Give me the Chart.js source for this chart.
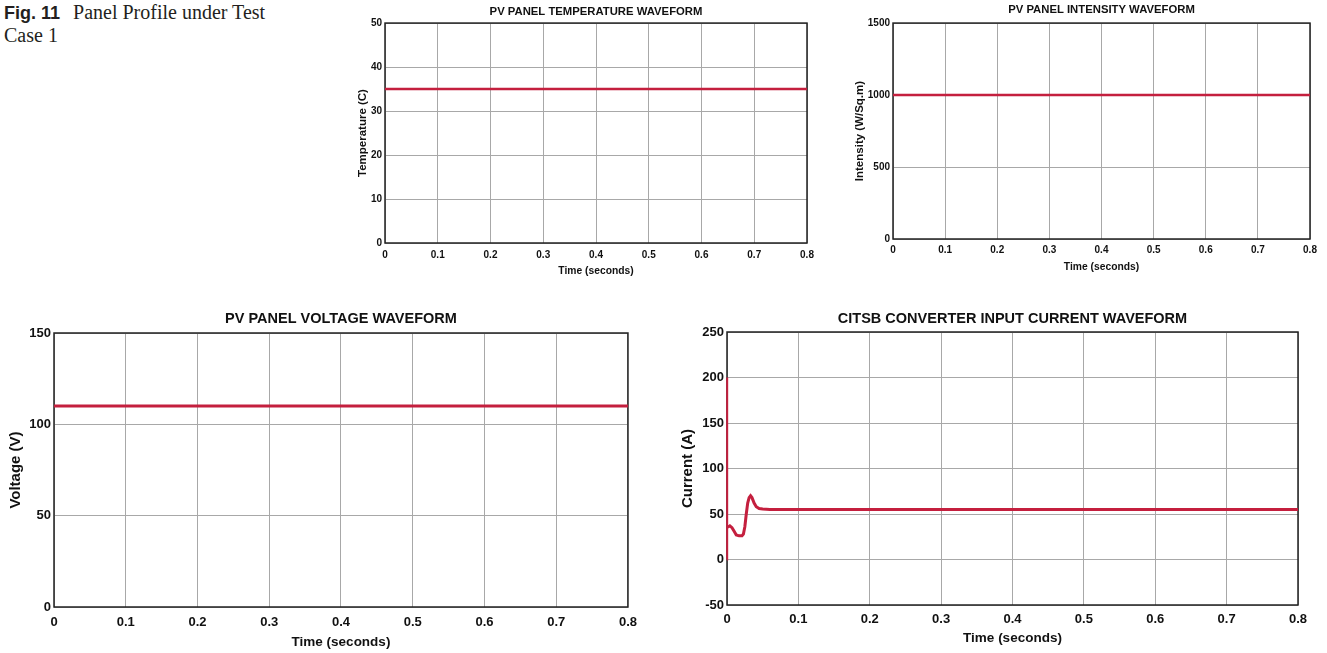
<!DOCTYPE html>
<html>
<head>
<meta charset="utf-8">
<title>Panel Profile under Test Case 1</title>
<script src="https://cdn.jsdelivr.net/npm/chart.js@4/dist/chart.umd.min.js"></script>
<style>
  body {
    margin: 0;
    background: #fff;
    width: 1327px;
    height: 653px;
    overflow: hidden;
    position: relative;
  }
  .caption {
    position: absolute;
    left: 4px;
    top: 1px;
    font-family: "Liberation Serif", "Times New Roman", serif;
    font-size: 20px;
    line-height: 22px;
    color: #231f20;
  }
  .caption b {
    font-family: "Liberation Sans", Arial, sans-serif;
    font-size: 18px;
    margin-right: 8px;
  }
  canvas {
    position: absolute;
  }
</style>
</head>
<body>
<div class="caption"><b>Fig. 11</b> Panel Profile under Test<br>Case 1</div>

<canvas id="temp" style="left:350px;top:0px" width="470" height="280"></canvas>
<canvas id="intensity" style="left:845px;top:0px" width="480" height="275"></canvas>
<canvas id="voltage" style="left:0px;top:300px" width="645" height="353"></canvas>
<canvas id="current" style="left:675px;top:300px" width="650" height="353"></canvas>

<script>
// time axis shared by all four panels
const timeTickValues = [0, 0.1, 0.2, 0.3, 0.4, 0.5, 0.6, 0.7, 0.8];
const timeTickLabels = ["0", "0.1", "0.2", "0.3", "0.4", "0.5", "0.6", "0.7", "0.8"];

// PV panel temperature (C)
const tempTime = [0, 0.8];
const tempValues = [35, 35];
const tempTicks = [0, 10, 20, 30, 40, 50];

// PV panel intensity (W/Sq.m)
const intensityTime = [0, 0.8];
const intensityValues = [1000, 1000];
const intensityTicks = [0, 500, 1000, 1500];

// PV panel voltage (V)
const voltageTime = [0, 0.8];
const voltageValues = [110, 110];
const voltageTicks = [0, 50, 100, 150];

// converter input current (A), start-up transient then steady
const currentTime = [0, 0, 0.0005, 0.002, 0.004, 0.007, 0.010, 0.013, 0.017, 0.021, 0.023,
  0.025, 0.027, 0.029, 0.031, 0.033, 0.035, 0.038, 0.041, 0.045, 0.05, 0.06, 0.8];
const currentValues = [0, 200, 36, 36, 37, 35, 31, 27, 26, 26, 28,
  36, 50, 62, 68, 70, 68, 62, 58, 56, 55.5, 55, 55];
const currentTicks = [-50, 0, 50, 100, 150, 200, 250];

const lineColor = "#c41f3e";
const gridColor = "#a8a8a8";
const fontFamily = "'Liberation Sans', Arial, sans-serif";

// black frame around the plot area, like a MATLAB axes box (under the trace)
const boxPlugin = {
  id: "box",
  beforeDatasetsDraw(chart) {
    const { ctx, chartArea: a } = chart;
    ctx.save();
    ctx.strokeStyle = "#222";
    ctx.lineWidth = 1.5;
    ctx.strokeRect(a.left, a.top, a.right - a.left, a.bottom - a.top);
    ctx.restore();
  },
};

function makePanel(id, p) {
  const points = p.times.map((t, i) => ({ x: t, y: p.values[i] }));
  return new Chart(document.getElementById(id), {
    type: "line",
    data: {
      datasets: [
        {
          data: points,
          borderColor: lineColor,
          borderWidth: p.lineWidth,
          pointRadius: 0,
          tension: 0,
          clip: 2,
          segment: {
            // the switch-on spike is drawn thinner than the waveform
            borderWidth: (ctx) => (p.thinSpike && ctx.p0DataIndex < 2 ? 2 : p.lineWidth),
          },
        },
      ],
    },
    options: {
      responsive: false,
      animation: false,
      layout: { padding: { left: 0, right: p.padRight, top: 0, bottom: 0 } },
      plugins: {
        legend: { display: false },
        tooltip: { enabled: false },
        title: {
          display: true,
          fullSize: false,
          text: p.title,
          color: "#111",
          font: { family: fontFamily, size: p.titleSize, weight: "bold" },
          padding: { top: p.titleTop, bottom: p.titleBottom },
        },
      },
      scales: {
        x: {
          type: "linear",
          min: 0,
          max: 0.8,
          afterBuildTicks: (s) => {
            s.ticks = timeTickValues.map((v) => ({ value: v }));
          },
          afterFit: (s) => {
            s.height = p.xHeight;
          },
          grid: { color: gridColor, lineWidth: 1, drawTicks: false },
          border: { display: false },
          ticks: {
            color: "#111",
            padding: p.xTickPad,
            maxRotation: 0,
            autoSkip: false,
            font: { family: fontFamily, size: p.tickSize, weight: "bold" },
            callback: (v, i) => timeTickLabels[i],
          },
          title: {
            display: true,
            text: "Time (seconds)",
            color: "#111",
            font: { family: fontFamily, size: p.xTitleSize, weight: "bold" },
            padding: { top: 0, bottom: p.xTitlePad },
          },
        },
        y: {
          min: p.ticks[0],
          max: p.ticks[p.ticks.length - 1],
          afterBuildTicks: (s) => {
            s.ticks = p.ticks.map((v) => ({ value: v }));
          },
          afterFit: (s) => {
            s.width = p.yWidth;
          },
          grid: { color: gridColor, lineWidth: 1, drawTicks: false },
          border: { display: false },
          ticks: {
            color: "#111",
            padding: 3,
            autoSkip: false,
            font: { family: fontFamily, size: p.tickSize, weight: "bold" },
            callback: (v) => String(v),
          },
          title: {
            display: true,
            text: p.yTitle,
            color: "#111",
            font: { family: fontFamily, size: p.yTitleSize, weight: "bold" },
            padding: { top: p.yTitlePad, bottom: 0 },
          },
        },
      },
    },
    plugins: [boxPlugin],
  });
}

makePanel("temp", {
  title: "PV PANEL TEMPERATURE WAVEFORM",
  yTitle: "Temperature (C)",
  times: tempTime,
  values: tempValues,
  ticks: tempTicks,
  lineWidth: 2.5,
  titleSize: 11.3,
  tickSize: 10,
  xTitleSize: 10.3,
  yTitleSize: 11.5,
  titleTop: 5,
  titleBottom: 4.5,
  padRight: 13,
  yWidth: 35,
  xHeight: 37,
  xTickPad: 6,
  xTitlePad: 3,
  yTitlePad: 6,
});

makePanel("intensity", {
  title: "PV PANEL INTENSITY WAVEFORM",
  yTitle: "Intensity (W/Sq.m)",
  times: intensityTime,
  values: intensityValues,
  ticks: intensityTicks,
  lineWidth: 2.5,
  titleSize: 11.3,
  tickSize: 10,
  xTitleSize: 10.3,
  yTitleSize: 11.5,
  titleTop: 3,
  titleBottom: 6.5,
  padRight: 15,
  yWidth: 48,
  xHeight: 36,
  xTickPad: 5,
  xTitlePad: 2,
  yTitlePad: 8,
});

makePanel("voltage", {
  title: "PV PANEL VOLTAGE WAVEFORM",
  yTitle: "Voltage (V)",
  times: voltageTime,
  values: voltageValues,
  ticks: voltageTicks,
  lineWidth: 3,
  titleSize: 14.5,
  tickSize: 13,
  xTitleSize: 13.5,
  yTitleSize: 15,
  titleTop: 10.3,
  titleBottom: 5.3,
  padRight: 17,
  yWidth: 54,
  xHeight: 46,
  xTickPad: 8,
  xTitlePad: 3,
  yTitlePad: 7,
});

makePanel("current", {
  title: "CITSB CONVERTER INPUT CURRENT WAVEFORM",
  yTitle: "Current (A)",
  times: currentTime,
  values: currentValues,
  ticks: currentTicks,
  lineWidth: 3,
  thinSpike: true,
  titleSize: 14.5,
  tickSize: 13,
  xTitleSize: 13.5,
  yTitleSize: 15,
  titleTop: 10.3,
  titleBottom: 4.3,
  padRight: 27,
  yWidth: 52,
  xHeight: 48,
  xTickPad: 7,
  xTitlePad: 7,
  yTitlePad: 4,
});
</script>
</body>
</html>
